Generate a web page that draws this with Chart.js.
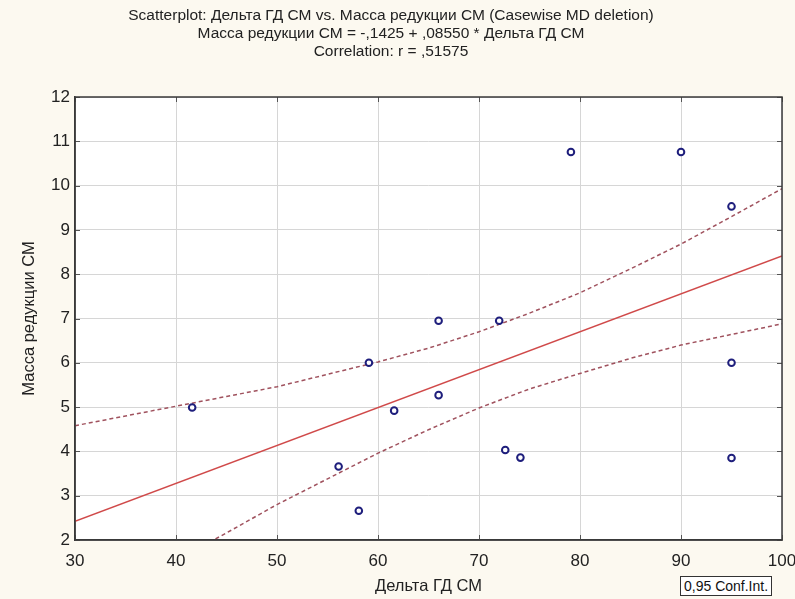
<!DOCTYPE html>
<html><head><meta charset="utf-8">
<script src="https://cdn.jsdelivr.net/npm/chart.js@4.4.1/dist/chart.umd.min.js"></script>
<style>
html,body{margin:0;padding:0;background:#FCF9F0;overflow:hidden}
#wrap{position:relative;width:795px;height:599px;overflow:hidden}
#legend{position:absolute;left:680px;top:576px;height:18px;padding:0 3px;border:1px solid #333;background:#fff;font:14px "Liberation Sans",Arial,sans-serif;line-height:18px;white-space:nowrap;color:#111}
</style></head><body>
<div id="wrap"><canvas id="c" width="795" height="599"></canvas><div id="legend">0,95 Conf.Int.</div></div>
<script>
// Observed points
const pointX = [41.6, 56.1, 58.1, 59.1, 61.6, 66.0, 66.0, 72.0, 72.6, 74.1, 79.1, 90.0, 95.0, 95.0, 95.0];
const pointY = [4.99, 3.66, 2.66, 6.00, 4.92, 6.95, 5.27, 6.95, 4.03, 3.86, 10.76, 10.76, 9.53, 6.00, 3.85];
// Regression line endpoints
const fitX = [30, 100];
const fitY = [2.42, 8.41];
// 0.95 confidence band
const bandX     = [30,   35,   40,   45,   50,   55,   60,   65,   70,   75,   80,   85,   90,   95,   100];
const bandUpper = [4.58, 4.80, 5.02, 5.24, 5.46, 5.74, 6.02, 6.33, 6.70, 7.12, 7.58, 8.12, 8.68, 9.30, 9.93];
const bandLower = [0.25, 0.90, 1.54, 2.16, 2.80, 3.38, 3.96, 4.49, 4.98, 5.41, 5.76, 6.10, 6.40, 6.64, 6.88];
// Axis ticks
const xTicks = [30, 40, 50, 60, 70, 80, 90, 100];
const yTicks = [2, 3, 4, 5, 6, 7, 8, 9, 10, 11, 12];
const titleLines = [
  'Scatterplot: Дельта ГД СМ vs. Масса редукции СМ (Casewise MD deletion)',
  'Масса редукции СМ = -,1425 + ,08550 * Дельта ГД СМ',
  'Correlation: r = ,51575'
];
const xTitle = 'Дельта ГД СМ';
const yTitle = 'Масса редукции СМ';

const FONT = '"Liberation Sans", Arial, sans-serif';
const toXY = (xs, ys) => xs.map((x, i) => ({x: x, y: ys[i]}));

const plotBg = {
  id: 'plotBg',
  beforeDraw(chart) {
    const {ctx, chartArea: a} = chart;
    ctx.save();
    ctx.fillStyle = '#ffffff';
    ctx.fillRect(a.left, a.top, a.width, a.height);
    ctx.restore();
  }
};
const frame = {
  id: 'frame',
  afterDatasetsDraw(chart) {
    const {ctx, chartArea: a, scales: {x, y}} = chart;
    ctx.save();
    ctx.strokeStyle = '#555';
    ctx.lineWidth = 1;
    ctx.beginPath();
    x.ticks.forEach(t => {
      const px = Math.round(x.getPixelForValue(t.value)) + 0.5;
      ctx.moveTo(px, a.bottom); ctx.lineTo(px, a.bottom - 5);
      ctx.moveTo(px, a.top); ctx.lineTo(px, a.top + 5);
    });
    y.ticks.forEach(t => {
      const py = Math.round(y.getPixelForValue(t.value)) + 0.5;
      ctx.moveTo(a.left, py); ctx.lineTo(a.left + 5, py);
      ctx.moveTo(a.right, py); ctx.lineTo(a.right - 5, py);
    });
    ctx.stroke();
    ctx.strokeStyle = '#3a3a3a';
    ctx.lineWidth = 1.5;
    ctx.strokeRect(a.left, a.top, a.width, a.height);
    ctx.restore();
  }
};

new Chart(document.getElementById('c'), {
  type: 'scatter',
  data: {
    datasets: [
      {
        label: 'points',
        data: toXY(pointX, pointY),
        pointStyle: 'circle',
        pointRadius: 3.3,
        borderWidth: 2,
        borderColor: '#1e1e7c',
        backgroundColor: '#ffffff',
        showLine: false
      },
      {
        label: 'fit',
        data: toXY(fitX, fitY),
        showLine: true,
        pointRadius: 0,
        borderColor: '#d04a4a',
        borderWidth: 1.5
      },
      {
        label: 'upper',
        data: toXY(bandX, bandUpper),
        showLine: true,
        pointRadius: 0,
        borderColor: '#a0525e',
        borderWidth: 1.5,
        borderDash: [4, 3]
      },
      {
        label: 'lower',
        data: toXY(bandX, bandLower),
        showLine: true,
        pointRadius: 0,
        borderColor: '#a0525e',
        borderWidth: 1.5,
        borderDash: [4, 3]
      }
    ]
  },
  options: {
    responsive: false,
    animation: false,
    devicePixelRatio: 1,
    layout: {padding: {left: 0, right: 13, top: 0, bottom: 0}},
    plugins: {
      legend: {display: false},
      tooltip: {enabled: false},
      title: {
        display: true,
        text: titleLines,
        color: '#222',
        font: {family: FONT, size: 15.5, weight: 'normal', lineHeight: '18px'},
        padding: {top: 7, bottom: 36}
      }
    },
    scales: {
      x: {
        type: 'linear',
        min: 30, max: 100,
        afterBuildTicks: s => { s.ticks = xTicks.map(v => ({value: v})); },
        afterFit: s => { s.height = 59; s.paddingLeft = 0; s.paddingRight = 0; },
        ticks: {color: '#222', font: {family: FONT, size: 17}, padding: 11, maxRotation: 0, autoSkip: false},
        grid: {color: '#d6d6d6', lineWidth: 1, drawTicks: false},
        border: {display: true, color: '#3a3a3a', width: 1.5},
        title: {display: true, text: xTitle, color: '#222', font: {family: FONT, size: 16.5}, padding: {top: 0, bottom: 3}}
      },
      y: {
        type: 'linear',
        min: 2, max: 12,
        afterBuildTicks: s => { s.ticks = yTicks.map(v => ({value: v})); },
        afterFit: s => { s.width = 75; s.paddingTop = 0; s.paddingBottom = 0; },
        ticks: {color: '#222', font: {family: FONT, size: 17}, padding: 5, autoSkip: false},
        grid: {color: '#d6d6d6', lineWidth: 1, drawTicks: false},
        border: {display: true, color: '#3a3a3a', width: 1.5},
        title: {display: true, text: yTitle, color: '#222', font: {family: FONT, size: 16.5}, padding: {top: 20, bottom: 0}}
      }
    }
  },
  plugins: [plotBg, frame]
});
</script>
</body></html>
